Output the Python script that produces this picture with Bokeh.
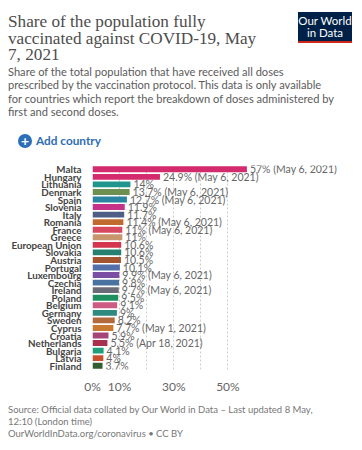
from bokeh.plotting import figure
from bokeh.models import (FactorRange, Range1d, FixedTicker, PrintfTickFormatter,
                          ColumnDataSource, Div)
from bokeh.layouts import column
from bokeh.core.properties import value
from bokeh.embed import file_html
from bokeh.resources import INLINE

countries = ["Malta", "Hungary", "Lithuania", "Denmark", "Spain", "Slovenia", "Italy",
             "Romania", "France", "Greece", "European Union", "Slovakia", "Austria",
             "Portugal", "Luxembourg", "Czechia", "Ireland", "Poland", "Belgium",
             "Germany", "Sweden", "Cyprus", "Croatia", "Netherlands", "Bulgaria",
             "Latvia", "Finland"]
values = [57, 24.9, 14, 13.7, 12.7, 11.9, 11.7, 11.4, 11, 11, 10.6, 10.6, 10.5, 10.1,
          9.9, 9.8, 9.7, 9.5, 9.1, 9, 8.2, 7.7, 5.9, 5.5, 4.1, 4, 3.7]
dates = ["May 6, 2021", "May 6, 2021", "", "May 6, 2021", "May 6, 2021", "", "",
         "May 6, 2021", "May 6, 2021", "", "", "", "", "", "May 6, 2021", "",
         "May 6, 2021", "", "", "", "", "May 1, 2021", "", "Apr 18, 2021", "", "", ""]
colors = ["#d42a6e", "#d42a6e", "#1f958d", "#6e8f52", "#2a86a0", "#c53288", "#4d5d85",
          "#c06a30", "#d6495f", "#c8956c", "#d5344e", "#27806f", "#a4552f", "#5370ab",
          "#7a4fa3", "#4a72a0", "#6b6c77", "#1f8f60", "#cc5a83", "#2e8a7f", "#b26a3c",
          "#c97a30", "#a6447a", "#a8304f", "#1f9e7a", "#c8502d", "#2f5e30"]
x_ticks = [0, 10, 30, 50]
grid_ticks = [10, 20, 30, 40, 50]

title_lines = ["Share of the population fully", "vaccinated against COVID-19, May", "7, 2021"]
sub_lines = ["Share of the total population that have received all doses",
             "prescribed by the vaccination protocol. This data is only available",
             "for countries which report the breakdown of doses administered by",
             "first and second doses."]
foot_lines = ["Source: Official data collated by Our World in Data \u2013 Last updated 8 May,",
              "12:10 (London time)",
              "OurWorldInData.org/coronavirus \u2022 CC BY"]

def fmt(v):
    return ("%g" % v) + "%"
labels = [fmt(v) + (" (" + d + ")" if d else "") for v, d in zip(values, dates)]

W = 346
HEAD_H, FOOT_H = 150, 46
FIG_H = 434 - HEAD_H - FOOT_H
FL, FT, FR = 81, 7, 2
FRAME_H = 209
FB = FIG_H - FT - FRAME_H

header_html = f"""
<div style="position:relative;width:{W}px;height:{HEAD_H}px;font-family:Lato;">
  <div style="position:absolute;left:0;top:6px;width:290px;font-family:'Liberation Serif';
       font-size:17.2px;line-height:16.5px;color:#4d4d4d;white-space:nowrap;">
    {'<br>'.join(title_lines)}
  </div>
  <div style="position:absolute;left:0;top:57px;width:{W}px;font-family:Lato;
       font-size:11.1px;line-height:13.4px;color:#5b5b5b;white-space:nowrap;">
    {'<br>'.join(sub_lines)}
  </div>
  <div style="position:absolute;left:10px;top:126px;width:14px;height:14px;border-radius:50%;
       background:#2a6fb8;color:white;font-family:Lato;font-weight:bold;font-size:14px;
       line-height:14px;text-align:center;">+</div>
  <div style="position:absolute;left:28px;top:125px;font-family:Lato;font-weight:bold;
       font-size:11.8px;line-height:16px;color:#2e6db4;white-space:nowrap;">Add country</div>
  <div style="position:absolute;left:290px;top:4px;width:54px;height:31px;background:#002147;
       border-bottom:2.5px solid #ce261e;color:white;font-family:Lato;font-size:11.5px;
       line-height:12px;text-align:center;padding-top:3px;box-sizing:border-box;">
       Our World<br>in Data</div>
</div>
"""
header = Div(text=header_html, width=W, height=HEAD_H, margin=0)

footer_html = f"""
<div style="position:relative;width:{W}px;height:{FOOT_H}px;">
  <div style="position:absolute;left:0;top:8px;font-family:Lato;font-size:9.5px;
       line-height:12px;color:#777777;white-space:nowrap;">
    {'<br>'.join(foot_lines)}
  </div>
</div>
"""
footer = Div(text=footer_html, width=W, height=FOOT_H, margin=0)

p = figure(width=W, height=FIG_H, output_backend="svg", toolbar_location=None,
           y_range=FactorRange(factors=list(reversed(countries))),
           x_range=Range1d(0, (W - FL - FR) / 2.74),
           min_border_left=FL, min_border_top=FT, min_border_bottom=FB,
           min_border_right=FR, outline_line_color=None, margin=0)
p.background_fill_color = "white"
p.border_fill_color = "white"

src = ColumnDataSource(dict(country=countries, value=values, color=colors, label=labels))
p.hbar(y="country", right="value", left=0, height=0.78, color="color", source=src,
       line_color=None)
p.text(x="value", y="country", text="label", source=src, x_offset=3,
       text_font=value("Lato"), text_font_size="10.5px", text_color="#666666",
       text_baseline="middle", text_align="left")

p.xaxis.ticker = FixedTicker(ticks=x_ticks)
p.xaxis.formatter = PrintfTickFormatter(format="%d%%")
p.xaxis.axis_line_color = None
p.xaxis.major_tick_line_color = None
p.xaxis.minor_tick_line_color = None
p.xaxis.major_label_text_font = "Lato"
p.xaxis.major_label_text_font_size = "12px"
p.xaxis.major_label_text_color = "#666666"
p.xaxis.major_label_standoff = 3

p.yaxis.axis_line_color = None
p.yaxis.major_tick_line_color = None
p.yaxis.minor_tick_line_color = None
p.yaxis.major_label_text_font = "Lato"
p.yaxis.major_label_text_font_size = "9.8px"
p.yaxis.major_label_text_font_style = "bold"
p.yaxis.major_label_text_color = "#444444"
p.yaxis.major_label_standoff = 5

p.ygrid.grid_line_color = None
p.xgrid.ticker = FixedTicker(ticks=grid_ticks)
p.xgrid.grid_line_color = "#cccccc"
p.xgrid.grid_line_dash = "2 2"

layout = column(header, p, footer, spacing=0, margin=(8, 8, 8, 8))
open("out.html", "w").write(file_html(layout, INLINE))
